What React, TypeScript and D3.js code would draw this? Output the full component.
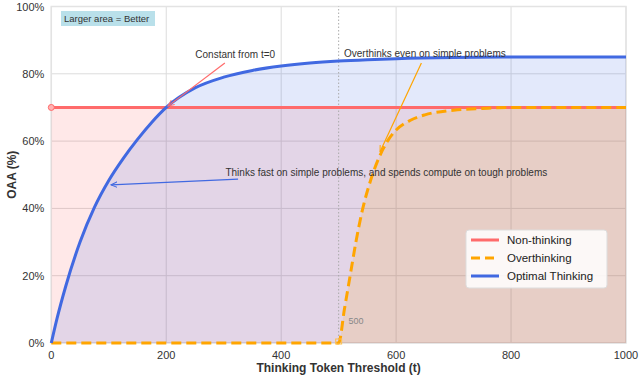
import React from 'react';
import * as d3 from 'd3';

// values (t, OAA %)
const optimalT = [0, 10, 25, 50, 75, 100, 125, 150, 175, 200, 250, 300, 350, 400, 450, 500, 550, 600, 700, 800, 900, 1000];
const optimalV = [0, 7.3, 16.8, 30, 40.3, 48.3, 54.8, 60.5, 65.6, 70, 75.8, 79, 81, 82.3, 83.2, 83.8, 84.2, 84.5, 84.85, 85, 85, 85];
const overT = [0, 100, 200, 300, 400, 500, 510, 520, 530, 542, 555, 570, 585, 600, 625, 650, 700, 750, 800, 900, 1000];
const overV = [0, 0, 0, 0, 0, 0, 10, 20, 30, 40, 48, 55, 60, 63.3, 66.2, 67.8, 69.2, 69.7, 70, 70, 70];
const nonThinkingT = [0, 1000];
const nonThinkingV = [70, 70];
const xTicks = [0, 200, 400, 600, 800, 1000];
const yTicks = [0, 20, 40, 60, 80, 100];
const legendItems = ['Non-thinking', 'Overthinking', 'Optimal Thinking'];

const W = 640;
const H = 377;
const FONT = '"Liberation Sans", Arial, Helvetica, sans-serif';
const RED = '#ff6b6b';
const ORANGE = '#ffa500';
const BLUE = '#4169e1';

export default function App() {
  const x = d3.scaleLinear().domain([0, 1000]).range([51.3, 626]);
  const y = d3.scaleLinear().domain([0, 100]).range([343, 6.5]);

  const zip = (ts: number[], vs: number[]) => ts.map((t, i) => [t, vs[i]] as [number, number]);
  const optimal = zip(optimalT, optimalV);
  const over = zip(overT, overV);
  const non = zip(nonThinkingT, nonThinkingV);

  const line = d3.line<[number, number]>().x(d => x(d[0])).y(d => y(d[1])).curve(d3.curveMonotoneX);
  const area = d3.area<[number, number]>().x(d => x(d[0])).y0(y(0)).y1(d => y(d[1])).curve(d3.curveMonotoneX);

  const arrow = (id: string, color: string) => (
    <marker id={id} viewBox="0 0 10 10" refX="9" refY="5" markerWidth="7" markerHeight="7" orient="auto-start-reverse" markerUnits="userSpaceOnUse">
      <path d="M0,1 L9,5 L0,9" fill="none" stroke={color} strokeWidth={1.4} />
    </marker>
  );

  return (
    <svg width={W} height={H} style={{ position: 'absolute', left: 0, top: 0, background: '#fff' }} fontFamily={FONT}>
      <defs>
        {arrow('arR', RED)}
        {arrow('arO', ORANGE)}
        {arrow('arB', BLUE)}
        <clipPath id="plot">
          <rect x={x(0)} y={y(100)} width={x(1000) - x(0)} height={y(0) - y(100)} />
        </clipPath>
      </defs>

      {/* grid */}
      {xTicks.map(t => (
        <line key={'gx' + t} x1={x(t)} x2={x(t)} y1={y(0)} y2={y(100)} stroke="#dcdcdc" strokeWidth={1} />
      ))}
      {yTicks.map(v => (
        <line key={'gy' + v} x1={x(0)} x2={x(1000)} y1={y(v)} y2={y(v)} stroke="#dcdcdc" strokeWidth={1} />
      ))}
      <rect x={x(0)} y={y(100)} width={x(1000) - x(0)} height={y(0) - y(100)} fill="none" stroke="#e3e3e3" strokeWidth={1.5} />

      {/* fills */}
      <g clipPath="url(#plot)">
        <path d={area(non) || ''} fill="rgb(255,0,0)" fillOpacity={0.09} />
        <path d={area(optimal) || ''} fill={BLUE} fillOpacity={0.15} />
        <path d={area(over) || ''} fill={ORANGE} fillOpacity={0.14} />
      </g>

      {/* t=500 marker line */}
      <line x1={x(500)} x2={x(500)} y1={y(0)} y2={y(100)} stroke="#aaa" strokeWidth={1} strokeDasharray="1.5,2" />
      <text x={x(530)} y={y(5.5)} fontSize={9} fill="#888" textAnchor="middle">500</text>

      {/* axis ticks */}
      {xTicks.map(t => (
        <text key={'tx' + t} x={x(t)} y={y(0) + 16} fontSize={11} fill="#333" textAnchor="middle">{t}</text>
      ))}
      {yTicks.map(v => (
        <text key={'ty' + v} x={x(0) - 7} y={y(v) + 4} fontSize={11} fill="#333" textAnchor="end">{v + '%'}</text>
      ))}
      <text x={(x(0) + x(1000)) / 2} y={372} fontSize={12} fontWeight="bold" fill="#333" textAnchor="middle">
        Thinking Token Threshold (t)
      </text>
      <text transform={`translate(16,${y(50)}) rotate(-90)`} fontSize={12} fontWeight="bold" fill="#333" textAnchor="middle">
        OAA (%)
      </text>

      {/* lines */}
      <path d={line(non) || ''} fill="none" stroke={RED} strokeWidth={3} />
      <circle cx={x(0)} cy={y(70)} r={3} fill="#ffb3b3" stroke={RED} strokeWidth={1} />
      <path d={line(over) || ''} fill="none" stroke={ORANGE} strokeWidth={3} strokeDasharray="10,5" />
      <rect x={x(500) - 3} y={y(0) - 4} width={6} height={5} fill="none" stroke="#ffc04d" strokeWidth={1} />
      <path d={line(optimal) || ''} fill="none" stroke={BLUE} strokeWidth={3} />

      {/* badge */}
      <rect x={61} y={11} width={94} height={15} fill="#b9e0ea" />
      <text x={64} y={22} fontSize={9.5} fill="#333">Larger area = Better</text>

      {/* annotations */}
      <text x={x(320)} y={y(84.7)} fontSize={10} fill="#333" textAnchor="middle">Constant from t=0</text>
      <line x1={x(302)} y1={y(83.2)} x2={x(203)} y2={y(70.4)} stroke={RED} strokeWidth={1.2} markerEnd="url(#arR)" />

      <text x={x(650)} y={y(84.9)} fontSize={10} fill="#333" textAnchor="middle">Overthinks even on simple problems</text>
      <line x1={x(644)} y1={y(83.2)} x2={x(572)} y2={y(56.8)} stroke={ORANGE} strokeWidth={1.2} markerEnd="url(#arO)" />

      <text x={x(583)} y={y(49.6)} fontSize={10} fill="#333" textAnchor="middle">
        Thinks fast on simple problems, and spends compute on tough problems
      </text>
      <line x1={x(325)} y1={y(48.7)} x2={x(104)} y2={y(47)} stroke={BLUE} strokeWidth={1.2} markerEnd="url(#arB)" />

      {/* legend */}
      <g transform="translate(466,230)">
        <rect x={0} y={0} width={141} height={58} rx={3} fill="#fff" fillOpacity={0.85} stroke="#dddddd" />
        {legendItems.map((name, i) => {
          const c = [RED, ORANGE, BLUE][i];
          return (
            <g key={name} transform={`translate(0,${10 + i * 18})`}>
              <line x1={5} x2={33} y1={0} y2={0} stroke={c} strokeWidth={3} strokeDasharray={i === 1 ? '9,5' : undefined} />
              <text x={41} y={4} fontSize={11.5} fill="#222">{name}</text>
            </g>
          );
        })}
      </g>
    </svg>
  );
}
